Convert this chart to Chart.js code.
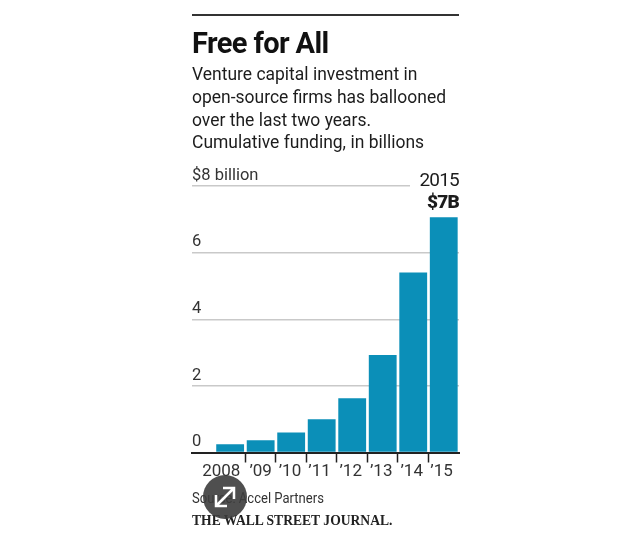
<!DOCTYPE html>
<html>
<head>
<meta charset="utf-8">
<title>Free for All</title>
<script src="https://cdn.jsdelivr.net/npm/chart.js@4"></script>
<style>
html, body { margin: 0; padding: 0; background: #fff; }
body { width: 623px; height: 536px; position: relative; overflow: hidden; font-family: Roboto, sans-serif; color: #1c1c1c; }
#chart { position: absolute; left: 0; top: 0; }
.rule { position: absolute; left: 192px; top: 14px; width: 267px; height: 2px; background: #333; }
h1 { position: absolute; left: 192px; top: 26px; margin: 0; font-size: 29px; line-height: 34px; font-weight: 700; letter-spacing: -0.6px; color: #111; white-space: nowrap; }
.sub { position: absolute; left: 192px; top: 63px; font-size: 19px; line-height: 22.8px; white-space: pre; transform: scaleX(0.92); transform-origin: left top; }
.callout { position: absolute; left: 410px; top: 169px; width: 49px; background: #fff; text-align: right; font-size: 19px; line-height: 21.5px; letter-spacing: -0.8px; }
.callout b { display: block; font-weight: 900; }
.source { position: absolute; left: 192px; top: 490px; font-size: 14.5px; line-height: 18px; color: #333; white-space: nowrap; transform: scaleX(0.9); transform-origin: left top; }
.logo { position: absolute; left: 192px; top: 512px; font-family: "Liberation Serif", serif; font-weight: 700; font-size: 13.6px; line-height: 18px; color: #222; white-space: nowrap; }
.badge { position: absolute; left: 203px; top: 475px; }
</style>
</head>
<body>
<canvas id="chart" width="623" height="536"></canvas>
<div class="rule"></div>
<h1>Free for All</h1>
<div class="sub">Venture capital investment in
open-source firms has ballooned
over the last two years.
Cumulative funding, in billions</div>
<div class="callout">2015<b>$7B</b></div>
<div class="source">Source: Accel Partners</div>
<div class="logo">THE WALL STREET JOURNAL.</div>
<svg class="badge" width="44" height="44" viewBox="0 0 44 44">
  <circle cx="22" cy="22" r="22" fill="#3c3c3c" fill-opacity="0.9"/>
  <path d="M13 20v11h11M31 24V13H20M14 30L30 14" fill="none" stroke="#fff" stroke-width="2.5"/>
</svg>
<script>
/* ----------- Data ----------- */
const years = [2008, 2009, 2010, 2011, 2012, 2013, 2014, 2015];
const funding = [0.25, 0.37, 0.6, 1.0, 1.63, 2.93, 5.4, 7.06];
const yearLabels = ['2008', '’09', '’10', '’11', '’12', '’13', '’14', '’15'];
// where each year label sits on the x axis (2008 hangs left of its bar)
const labelPositions = [2007.71, 2009, 2009.96, 2010.93, 2011.95, 2012.95, 2013.95, 2014.93];
const tickEdges = [2008.5, 2009.5, 2010.5, 2011.5, 2012.5, 2013.5, 2014.5];

new Chart(document.getElementById('chart').getContext('2d'), {
    type: 'bar',
    data: {
        datasets: [{
            data: years.map((y, i) => ({ x: y, y: funding[i] })),
            backgroundColor: '#0b8fb8',
            categoryPercentage: 0.95,
            barPercentage: 1
        }]
    },
    options: {
        responsive: false,
        animation: false,
        layout: { padding: { left: 192, right: 164, top: 186, bottom: 0 } },
        plugins: { legend: { display: false }, tooltip: { enabled: false } },
        scales: {
            x: {
                type: 'linear',
                offset: false,
                min: 2006.75,
                max: 2015.5,
                afterBuildTicks: scale => {
                    scale.ticks = labelPositions.concat(tickEdges).map(v => ({ value: v }));
                },
                afterFit: scale => { scale.height = 83.5; },
                grid: {
                    offset: false,
                    drawOnChartArea: false,
                    tickLength: 10,
                    tickWidth: 1.5,
                    tickColor: ctx => (ctx.tick && tickEdges.includes(ctx.tick.value)) ? '#222' : 'rgba(0,0,0,0)'
                },
                border: { color: '#222', width: 2 },
                ticks: {
                    autoSkip: false,
                    maxRotation: 0,
                    padding: -1,
                    color: '#333',
                    font: { family: 'Roboto', size: 17 },
                    callback: v => {
                        const i = labelPositions.indexOf(v);
                        return i >= 0 ? yearLabels[i] : '';
                    }
                }
            },
            y: {
                min: 0,
                max: 8,
                afterBuildTicks: scale => {
                    scale.ticks = [0, 2, 4, 6, 8].map(v => ({ value: v }));
                },
                grid: { color: '#c9c9c9', lineWidth: 1.5, drawTicks: false },
                border: { display: false },
                ticks: {
                    mirror: true,
                    padding: 0,
                    labelOffset: -10.5,
                    color: '#333',
                    font: { family: 'Roboto', size: 16.5 },
                    callback: v => v === 8 ? '$8 billion' : String(v)
                }
            }
        }
    }
});
</script>
</body>
</html>
